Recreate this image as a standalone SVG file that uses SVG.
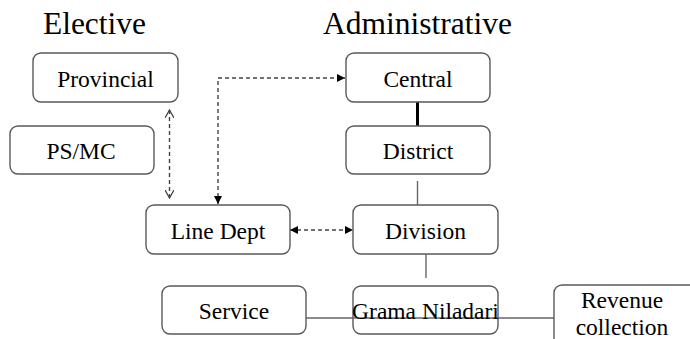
<svg xmlns="http://www.w3.org/2000/svg" width="690" height="339" viewBox="0 0 690 339">
<style>
.box{fill:#fff;stroke:#5a5a5a;stroke-width:1.4}
.lbl{font-family:"Liberation Serif","Times New Roman",serif;font-size:23.5px;fill:#000;text-anchor:middle}
.ttl{font-family:"Liberation Serif","Times New Roman",serif;font-size:31.5px;fill:#000;text-anchor:middle}
.dash{fill:none;stroke:#444;stroke-width:1.4;stroke-dasharray:4 3}
.ln{fill:none;stroke:#666;stroke-width:1.4}
</style>
<defs>
<marker id="fa" viewBox="0 0 10 10" refX="10" refY="5" markerWidth="8" markerHeight="8" markerUnits="userSpaceOnUse" orient="auto-start-reverse">
<path d="M0,0 L10,5 L0,10 Z" fill="#000"/>
</marker>
<marker id="oa" viewBox="0 0 10 10" refX="9" refY="5" markerWidth="9" markerHeight="9" markerUnits="userSpaceOnUse" orient="auto-start-reverse">
<path d="M0,0 L9,5 L0,10" fill="none" stroke="#444" stroke-width="1.4"/>
</marker>
</defs>
<text class="ttl" x="94.5" y="34">Elective</text>
<text class="ttl" x="417.5" y="34">Administrative</text>
<g id="connectors">
<line class="ln" x1="306" y1="318" x2="554" y2="318"/>
<line x1="417.5" y1="102" x2="417.5" y2="126" stroke="#000" stroke-width="3"/>
<line class="ln" x1="417.5" y1="181" x2="417.5" y2="205"/>
<line class="ln" x1="426" y1="254" x2="426" y2="278"/>
<path class="dash" d="M169.5,110 L169.5,198" marker-start="url(#oa)" marker-end="url(#oa)"/>
<path class="dash" d="M218,204 L218,78 L345,78" marker-start="url(#fa)" marker-end="url(#fa)"/>
<path class="dash" d="M290,230 L353,230" marker-start="url(#fa)" marker-end="url(#fa)"/>
</g>
<g id="provincial"><rect class="box" x="33" y="53" width="145" height="49" rx="8"/><text class="lbl" x="105.5" y="87">Provincial</text></g>
<g id="psmc"><rect class="box" x="10" y="126" width="144" height="48" rx="8"/><text class="lbl" x="81" y="159">PS/MC</text></g>
<g id="central"><rect class="box" x="346" y="53" width="144" height="49" rx="8"/><text class="lbl" x="418" y="87">Central</text></g>
<g id="district"><rect class="box" x="346" y="126" width="144" height="48" rx="8"/><text class="lbl" x="418" y="159">District</text></g>
<g id="linedept"><rect class="box" x="146" y="205" width="144" height="49" rx="8"/><text class="lbl" x="218" y="239">Line Dept</text></g>
<g id="division"><rect class="box" x="353" y="205" width="145" height="49" rx="8"/><text class="lbl" x="425.5" y="239">Division</text></g>
<g id="service"><rect class="box" x="162" y="286" width="144" height="48" rx="8"/><text class="lbl" x="234" y="319">Service</text></g>
<g id="grama"><rect class="box" x="353" y="286" width="145" height="48" rx="8"/><line class="ln" x1="353" y1="318" x2="498" y2="318"/><text class="lbl" x="425.5" y="319">Grama Niladari</text></g>
<g id="revenue"><rect class="box" x="554" y="285" width="145" height="64" rx="8"/><text class="lbl" x="622" y="308">Revenue</text><text class="lbl" x="622" y="335">collection</text></g>
</svg>
